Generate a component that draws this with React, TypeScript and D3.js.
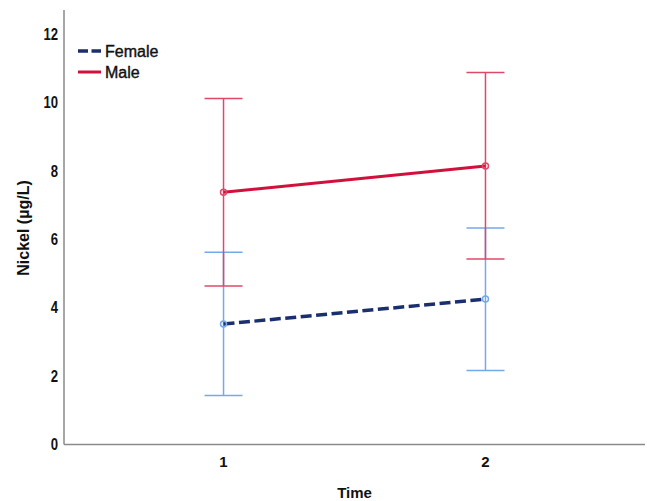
import React from "react";
import * as d3 from "d3";

const times = ["1", "2"];
const femaleMean = [3.52, 4.25];
const femaleLow = [1.43, 2.16];
const femaleHigh = [5.62, 6.33];
const maleMean = [7.37, 8.14];
const maleLow = [4.63, 5.42];
const maleHigh = [10.11, 10.87];
const yTicks = [0, 2, 4, 6, 8, 10, 12];

const W = 647;
const H = 501;
const left = 64;
const right = 645;
const top = 10;
const bottom = 444.5;

export default function App() {
  const x = d3.scalePoint<string>().domain(times).range([left, right]).padding(0.609);
  const y = d3.scaleLinear().domain([0, 12.7]).range([bottom, top]);
  const line = d3
    .line<number>()
    .x((_, i) => x(times[i]) as number)
    .y((d) => y(d));

  const series = [
    {
      name: "Female",
      mean: femaleMean,
      low: femaleLow,
      high: femaleHigh,
      lineColor: "#1b2f6e",
      barColor: "#74a9ea",
      dash: "11 4.5",
      width: 3.5,
    },
    {
      name: "Male",
      mean: maleMean,
      low: maleLow,
      high: maleHigh,
      lineColor: "#d1103c",
      barColor: "#e0486a",
      dash: null as string | null,
      width: 3,
    },
  ];
  const cap = 19;
  const font = "'Liberation Sans', Arial, sans-serif";

  return (
    <svg
      width={W}
      height={H}
      style={{ position: "absolute", left: 0, top: 0, background: "#fff" }}
    >
      {/* axes */}
      <line x1={left} x2={left} y1={top} y2={bottom} stroke="#8a8a8a" strokeWidth={1.5} />
      <line x1={left} x2={right} y1={bottom} y2={bottom} stroke="#8a8a8a" strokeWidth={1.5} />
      {yTicks.map((t) => (
        <g key={t} transform={`translate(58,${y(t)}) scale(0.82,1)`}>
          <text
            x={0}
            y={0}
            dy="0.36em"
            textAnchor="end"
            fontFamily={font}
            fontWeight="bold"
            fontSize={16}
            fill="#111"
          >
            {t}
          </text>
        </g>
      ))}
      {times.map((t) => (
        <text
          key={t}
          x={x(t)}
          y={467}
          textAnchor="middle"
          fontFamily={font}
          fontWeight="bold"
          fontSize={15}
          fill="#111"
        >
          {t}
        </text>
      ))}
      <text
        x={(left + right) / 2}
        y={498}
        textAnchor="middle"
        fontFamily={font}
        fontWeight="bold"
        fontSize={15}
        fill="#111"
      >
        Time
      </text>
      <text
        transform={`translate(29,228) rotate(-90)`}
        textAnchor="middle"
        fontFamily={font}
        fontWeight="bold"
        fontSize={16}
        fill="#111"
      >
        Nickel (µg/L)
      </text>

      {/* error bars */}
      {series.map((s) =>
        times.map((t, i) => {
          const cx = x(t) as number;
          return (
            <g key={s.name + t} stroke={s.barColor} strokeWidth={1.5}>
              <line x1={cx} x2={cx} y1={y(s.low[i])} y2={y(s.high[i])} />
              <line x1={cx - cap} x2={cx + cap} y1={y(s.low[i])} y2={y(s.low[i])} />
              <line x1={cx - cap} x2={cx + cap} y1={y(s.high[i])} y2={y(s.high[i])} />
            </g>
          );
        })
      )}

      {/* lines */}
      {series.map((s) => (
        <path
          key={s.name}
          d={line(s.mean) || ""}
          fill="none"
          stroke={s.lineColor}
          strokeWidth={s.width}
          strokeDasharray={s.dash || undefined}
        />
      ))}
      {series.map((s) =>
        s.mean.map((m, i) => (
          <circle
            key={s.name + i}
            cx={x(times[i]) as number}
            cy={y(m)}
            r={3}
            fill="none"
            stroke={s.barColor}
            strokeWidth={1.5}
          />
        ))
      )}

      {/* legend */}
      {series.map((s, i) => (
        <g key={s.name} transform={`translate(0,${51 + i * 21})`}>
          <line
            x1={78}
            x2={101}
            y1={0}
            y2={0}
            stroke={s.lineColor}
            strokeWidth={s.width}
            strokeDasharray={s.dash ? "10 3.5" : undefined}
          />
          <text
            x={105}
            y={0}
            dy="0.36em"
            fontFamily={font}
            fontSize={16}
            fill="#111"
            stroke="#111"
            strokeWidth={0.4}
          >
            {s.name}
          </text>
        </g>
      ))}
    </svg>
  );
}
